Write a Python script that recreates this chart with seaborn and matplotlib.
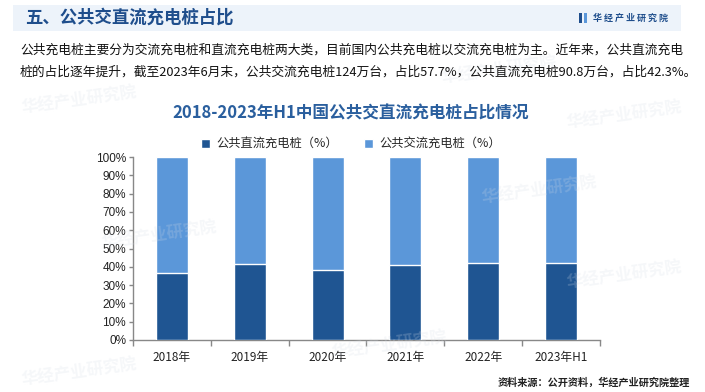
import matplotlib
matplotlib.use("Agg")
import matplotlib.pyplot as plt
from matplotlib.patches import Rectangle
import seaborn as sns
import pandas as pd

categories = ["2018年", "2019年", "2020年", "2021年", "2022年", "2023年H1"]
dc_share = [36.6, 41.5, 38.3, 41.0, 42.1, 42.3]
ac_share = [63.4, 58.5, 61.7, 59.0, 57.9, 57.7]
y_ticks = [0, 10, 20, 30, 40, 50, 60, 70, 80, 90, 100]
series_names = ["公共直流充电桩（%）", "公共交流充电桩（%）"]

sns.set_theme(style="white")
plt.rcParams['font.family'] = ['Noto Sans CJK SC', 'DejaVu Sans']

DARK = "#1F5592"
LIGHT = "#5B97D9"

df = pd.DataFrame({"cat": categories, "dc": dc_share, "ac": ac_share})
df["total"] = df["dc"] + df["ac"]

fig = plt.figure(figsize=(7.05, 3.92), dpi=100)
fig.patch.set_facecolor("white")

# header band
fig.patches.append(Rectangle((13/705, 1-31/392), 668/705, 26/392, transform=fig.transFigure,
                             facecolor="#EDF3FA", edgecolor="none", zorder=0))
fig.text(25/705, 1-18/392, "五、公共交直流充电桩占比", fontsize=12.5, fontweight="bold",
         color="#1F4E8C", va="center", ha="left")
fig.patches.append(Rectangle((579/705, 1-23/392), 3/705, 10/392, transform=fig.transFigure,
                             facecolor="#1F4E8C", edgecolor="none"))
fig.patches.append(Rectangle((584/705, 1-23/392), 3/705, 10/392, transform=fig.transFigure,
                             facecolor="#5B97D9", edgecolor="none"))
fig.text(593/705, 1-18/392, "华 经 产 业 研 究 院", fontsize=6.5, fontweight="bold",
         color="#1F4E8C", va="center", ha="left")

# description text
fig.text(20/705, 1-50/392, "公共充电桩主要分为交流充电桩和直流充电桩两大类，目前国内公共充电桩以交流充电桩为主。近年来，公共直流充电",
         fontsize=9.2, color="#111111", va="center", ha="left")
fig.text(20/705, 1-72/392, "桩的占比逐年提升，截至2023年6月末，公共交流充电桩124万台，占比57.7%，公共直流充电桩90.8万台，占比42.3%。",
         fontsize=9.2, color="#111111", va="center", ha="left")

# faint watermarks
for (wx, wy) in [(20, 100), (100, 235), (440, 70), (480, 190), (330, 345), (20, 372), (565, 115), (565, 275)]:
    fig.text(wx/705, 1-wy/392, "华经产业研究院", fontsize=12, fontweight="bold",
             color="#D5DCE6", alpha=0.22, rotation=8, va="center", ha="left", zorder=0)

# chart title
fig.text(351/705, 1-113/392, "2018-2023年H1中国公共交直流充电桩占比情况", fontsize=12, fontweight="bold",
         color="#2A5F9E", va="center", ha="center")

ax = fig.add_axes([133/705, 1-340/392, 467/705, 183/392])
ax.set_facecolor("none")
sns.barplot(data=df, x="cat", y="total", color=LIGHT, width=0.41, ax=ax,
            saturation=1, label=series_names[1], zorder=2)
sns.barplot(data=df, x="cat", y="dc", color=DARK, width=0.41, ax=ax,
            saturation=1, label=series_names[0], zorder=3)

ax.set_xlim(-0.5, len(categories) - 0.5)
ax.set_ylim(0, 100)
ax.set_yticks(y_ticks)
ax.set_yticklabels([f"{v}%" for v in y_ticks], fontsize=8.5, color="#222222", family=['Liberation Sans', 'DejaVu Sans'])
ax.set_xticks(range(len(categories)))
ax.set_xticklabels(categories, fontsize=8.5, color="#222222")
ax.set_xticks([i - 0.5 for i in range(len(categories) + 1)], minor=True)
ax.tick_params(axis="x", which="major", length=0, pad=8)
ax.tick_params(axis="x", which="minor", length=4, color="#888888", width=1, direction="out", bottom=True)
ax.tick_params(axis="y", length=3, color="#888888", width=1, direction="out", left=True, pad=2)
ax.set_xlabel("")
ax.set_ylabel("")
for s in ["top", "right"]:
    ax.spines[s].set_visible(False)
for s in ["left", "bottom"]:
    ax.spines[s].set_color("#888888")
    ax.spines[s].set_linewidth(1)
if ax.get_legend():
    ax.get_legend().remove()

# legend
handles, labels = ax.get_legend_handles_labels()
order = [labels.index(series_names[0]), labels.index(series_names[1])]
fig.legend([handles[i] for i in order], [labels[i] for i in order],
           loc="center", bbox_to_anchor=(351/705, 1-144/392), ncol=2, frameon=False,
           fontsize=8.8, handlelength=0.7, handleheight=0.7, columnspacing=2.2, handletextpad=0.5)

# source
fig.text(690/705, 1-383/392, "资料来源：公开资料，华经产业研究院整理", fontsize=7.3, fontweight="bold",
         color="#222222", va="center", ha="right")

fig.savefig("out.png", dpi=100)
